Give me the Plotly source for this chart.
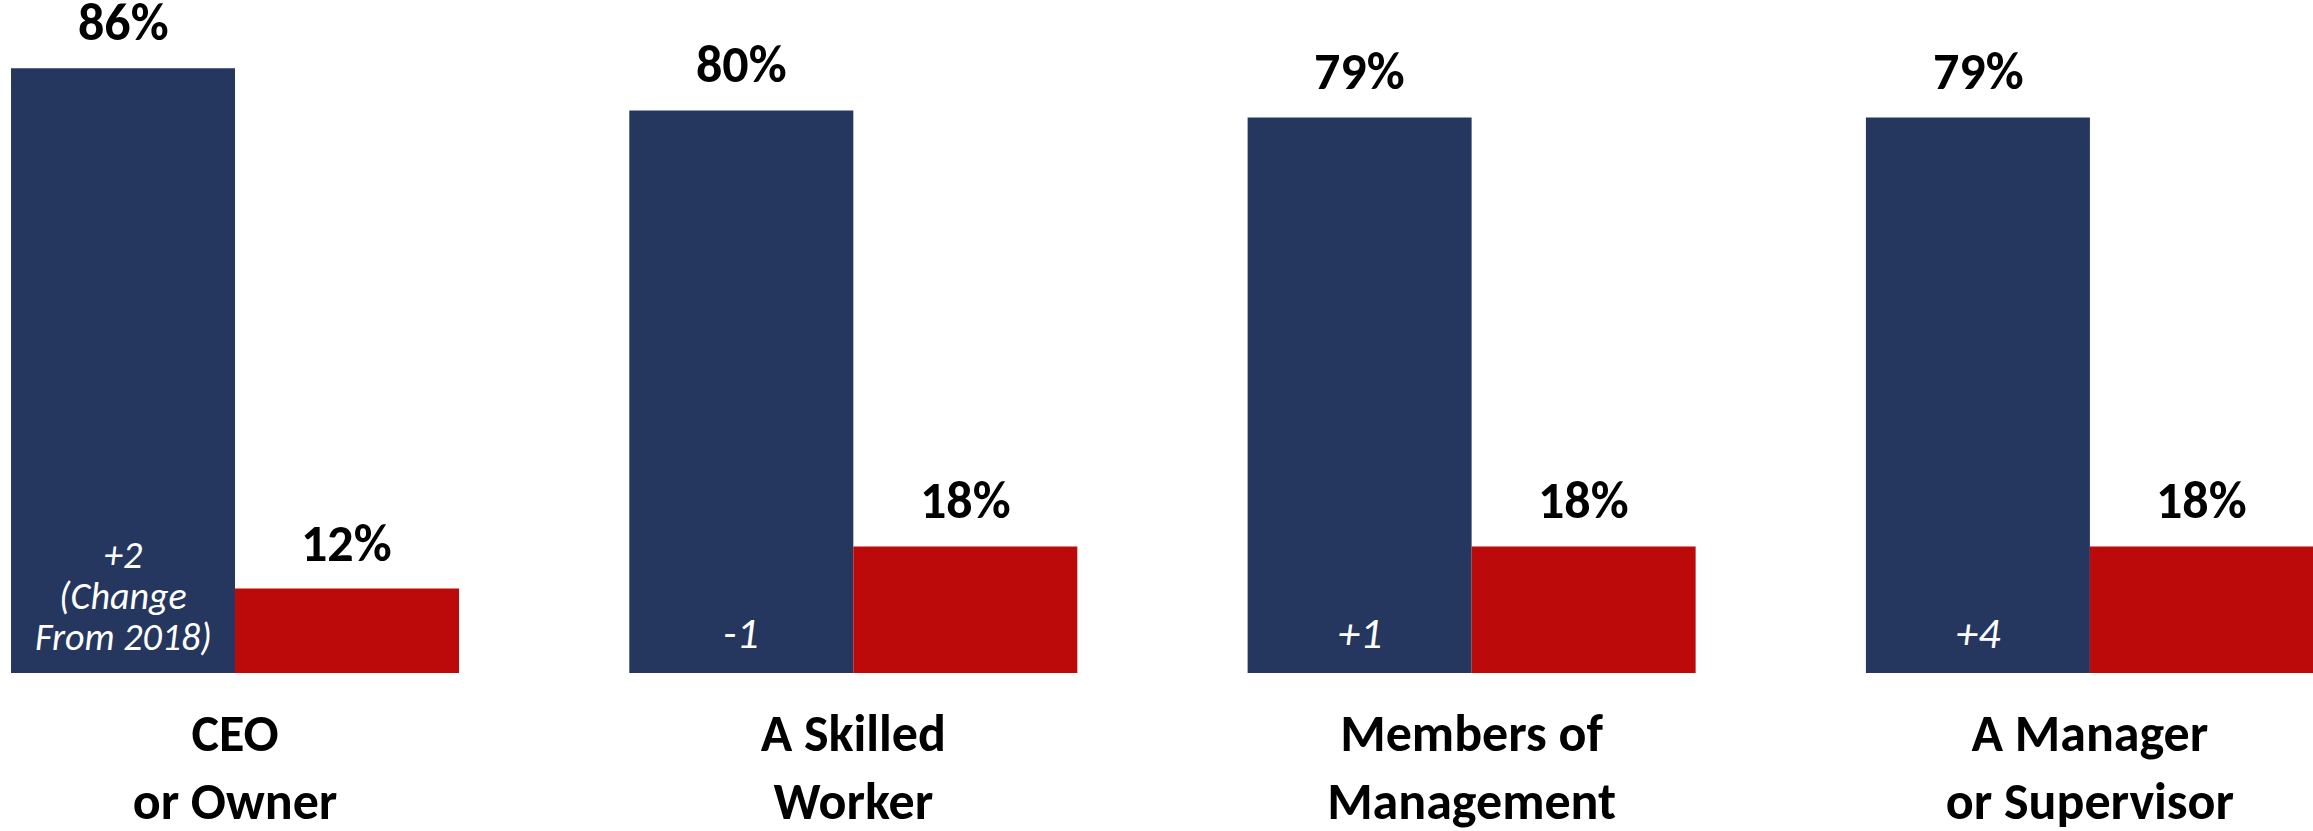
import plotly.graph_objects as go

categories = ["CEO<br>or Owner", "A Skilled<br>Worker", "Members of<br>Management", "A Manager<br>or Supervisor"]
positive = [86, 80, 79, 79]
negative = [12, 18, 18, 18]
change_labels = [["+2", "(Change", "From 2018)"], ["-1"], ["+1"], ["+4"]]

NAVY = "#25365F"
RED = "#BC0A0A"
FONT = "Carlito, Calibri, Lato, sans-serif"

xs = list(range(len(categories)))
half = 0.181  # offset of each bar centre from the category centre

fig = go.Figure()
fig.add_trace(go.Bar(x=xs, y=positive, marker=dict(color=NAVY, line=dict(width=0)),
                     offsetgroup="a", showlegend=False, hoverinfo="skip"))
fig.add_trace(go.Bar(x=xs, y=negative, marker=dict(color=RED, line=dict(width=0)),
                     offsetgroup="b", showlegend=False, hoverinfo="skip"))

annotations = []
for i in xs:
    annotations.append(dict(x=i - half, y=positive[i], xref="x", yref="y",
                            text=f"<b>{positive[i]}%</b>", showarrow=False,
                            yanchor="bottom", yshift=13, borderpad=0,
                            font=dict(family=FONT, size=52, color="black")))
    annotations.append(dict(x=i + half, y=negative[i], xref="x", yref="y",
                            text=f"<b>{negative[i]}%</b>", showarrow=False,
                            yanchor="bottom", yshift=13, borderpad=0,
                            font=dict(family=FONT, size=52, color="black")))
    lines = change_labels[i]
    multi = len(lines) > 1
    for k, line in enumerate(reversed(lines)):
        annotations.append(dict(x=i - half, y=0, xref="x", yref="y",
                                text=f"<i>{line}</i>", showarrow=False,
                                yanchor="bottom", yshift=12 + k * 41, borderpad=0,
                                font=dict(family=FONT, size=38 if multi else 44, color="white")))

fig.update_layout(
    width=2313, height=831,
    margin=dict(l=0, r=0, t=0, b=158, autoexpand=False),
    paper_bgcolor="white", plot_bgcolor="white",
    barmode="group", bargap=0.2754, bargroupgap=0,
    annotations=annotations,
    xaxis=dict(range=[-0.3801, 3.3608], tickmode="array", tickvals=xs,
               ticktext=[f"<b>{c}</b>" for c in categories],
               tickfont=dict(family=FONT, size=52, color="black"),
               showgrid=False, zeroline=False, showline=False, ticks="",
               ticklabelstandoff=25, automargin=False),
    yaxis=dict(range=[0, 95.7], visible=False, showgrid=False, zeroline=False,
               automargin=False),
)

fig.write_html("out.html")
